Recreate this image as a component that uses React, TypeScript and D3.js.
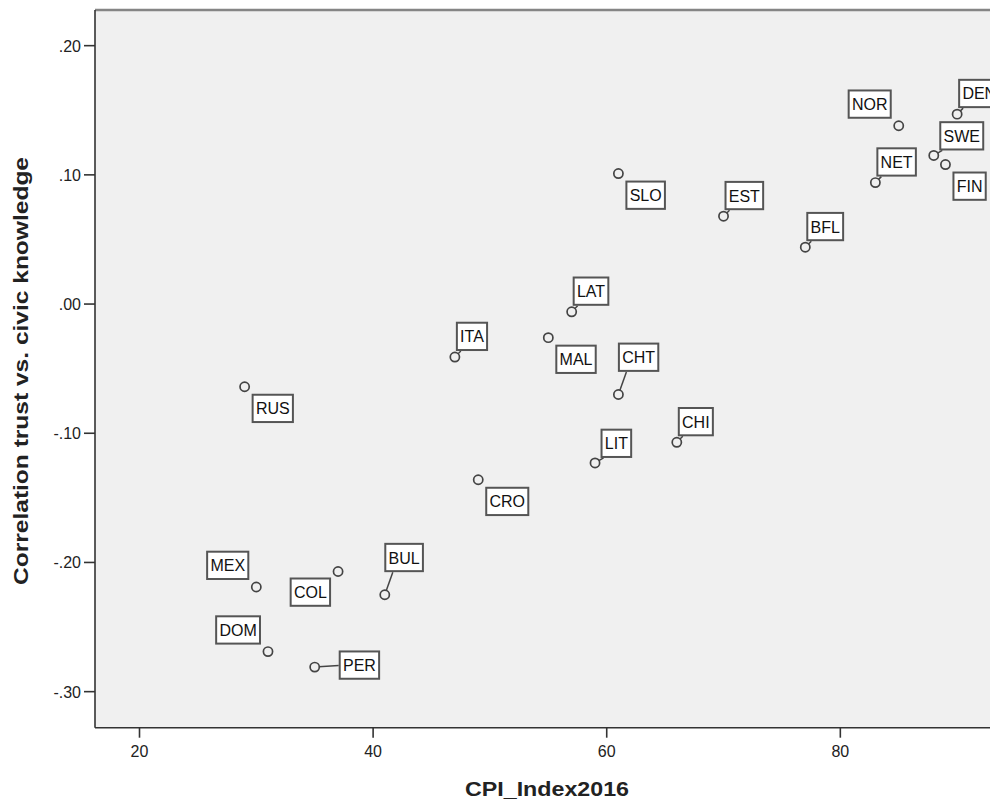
import React, { useEffect, useRef } from "react";
import * as d3 from "d3";

const countries = ["RUS","MEX","DOM","COL","PER","BUL","CRO","ITA","MAL","LAT","CHT","LIT","CHI","SLO","EST","BFL","NOR","NET","SWE","FIN","DEN"];
const cpiIndex = [29,30,31,37,35,41,49,47,55,57,61,59,66,61,70,77,85,83,88,89,90];
const correlation = [-0.064,-0.219,-0.269,-0.207,-0.281,-0.225,-0.136,-0.041,-0.026,-0.006,-0.070,-0.123,-0.107,0.101,0.068,0.044,0.138,0.094,0.115,0.108,0.147];

const xTicks = [20, 40, 60, 80];
const yTicks = [0.2, 0.1, 0.0, -0.1, -0.2, -0.3];
const yTickLabels = [".20", ".10", ".00", "-.10", "-.20", "-.30"];

const xTitle = "CPI_Index2016";
const yTitle = "Correlation trust vs. civic knowledge";

// label placement (layout only)
const placement: Record<string, string> = {
  RUS: "lr", MEX: "ul", DOM: "ul", COL: "ll", PER: "right", BUL: "above",
  CRO: "lr", ITA: "ur", MAL: "lr", LAT: "ur", CHT: "above", LIT: "ur2",
  CHI: "ur", SLO: "lr", EST: "ur", BFL: "ur", NOR: "ul", NET: "ur",
  SWE: "ur2", FIN: "lr", DEN: "ur",
};

const W = 990, H = 803;
const PL = 95, PR = 1000, PT = 10, PB = 727.7;

export default function App() {
  const ref = useRef<SVGSVGElement>(null);
  useEffect(() => {
    const svg = d3.select(ref.current);
    svg.selectAll("*").remove();
    const x = d3.scaleLinear().domain([16.19, 93.67]).range([PL, PR]);
    const y = d3.scaleLinear().domain([0.2276, -0.3279]).range([PT, PB]);
    const font = "'Liberation Sans', Arial, sans-serif";

    svg.append("rect").attr("x", 0).attr("y", 0).attr("width", W).attr("height", H).attr("fill", "#fff");
    svg.append("rect").attr("x", PL).attr("y", PT).attr("width", PR - PL).attr("height", PB - PT).attr("fill", "#f0f0f0");
    // borders
    svg.append("line").attr("x1", PL).attr("x2", PR).attr("y1", PT).attr("y2", PT).attr("stroke", "#858585").attr("stroke-width", 2.5);
    svg.append("line").attr("x1", PL).attr("x2", PL).attr("y1", PT).attr("y2", PB).attr("stroke", "#333").attr("stroke-width", 1.6);
    svg.append("line").attr("x1", PL).attr("x2", PR).attr("y1", PB).attr("y2", PB).attr("stroke", "#333").attr("stroke-width", 1.6);

    // y ticks
    yTicks.forEach((t, i) => {
      const yy = y(t);
      svg.append("line").attr("x1", PL - 11).attr("x2", PL).attr("y1", yy).attr("y2", yy).attr("stroke", "#333").attr("stroke-width", 1.6);
      svg.append("text").attr("x", 81).attr("y", yy + 6).attr("text-anchor", "end")
        .attr("font-family", font).attr("font-size", 16).attr("fill", "#222").text(yTickLabels[i]);
    });
    // x ticks
    xTicks.forEach((t) => {
      const xx = x(t);
      svg.append("line").attr("x1", xx).attr("x2", xx).attr("y1", PB).attr("y2", PB + 10).attr("stroke", "#333").attr("stroke-width", 1.6);
      svg.append("text").attr("x", xx).attr("y", 757).attr("text-anchor", "middle")
        .attr("font-family", font).attr("font-size", 16).attr("fill", "#222").text(String(t));
    });

    // titles
    svg.append("text").attr("x", 547).attr("y", 795.5).attr("text-anchor", "middle")
      .attr("font-family", font).attr("font-size", 20).attr("font-weight", "bold").attr("fill", "#222")
      .attr("textLength", 164).attr("lengthAdjust", "spacingAndGlyphs").text(xTitle);
    svg.append("text").attr("transform", "translate(28,371) rotate(-90)").attr("text-anchor", "middle")
      .attr("font-family", font).attr("font-size", 20).attr("font-weight", "bold").attr("fill", "#222")
      .attr("textLength", 428).attr("lengthAdjust", "spacingAndGlyphs").text(yTitle);

    const g = svg.append("g");
    const BH = 29.3;
    countries.forEach((c, i) => {
      const cx = x(cpiIndex[i]);
      const cy = y(correlation[i]);
      const t = g.append("text").attr("font-family", font).attr("font-size", 16).attr("fill", "#111")
        .attr("text-anchor", "middle").attr("dominant-baseline", "central").text(c);
      const tw = (t.node() as SVGTextElement).getComputedTextLength();
      const BW = tw + 8.5;
      let left = 0, top = 0;
      let leader: [number, number] | null = null;
      const p = placement[c];
      if (p === "lr") { left = cx + 7; top = cy + 7; }
      else if (p === "ul") { left = cx - 7 - BW; top = cy - 7 - BH; }
      else if (p === "ll") { left = cx - 7 - BW; top = cy + 6; }
      else if (p === "ur") { left = cx + 1; top = cy - 6 - BH; leader = [left + 5, top + BH]; }
      else if (p === "ur2") { left = cx + 5.5; top = cy - 5 - BH; leader = [left + 3, top + BH]; }
      else if (p === "above") { left = cx - 0.5; top = cy - 22.6 - BH; leader = [left + 8.5, top + BH]; }
      else if (p === "right") { left = cx + 24; top = cy - 2 - BH / 2; leader = [left, cy - 1.5]; }
      if (leader) {
        g.insert("line", "text").attr("x1", cx).attr("y1", cy).attr("x2", leader[0]).attr("y2", leader[1])
          .attr("stroke", "#444").attr("stroke-width", 1.5);
      }
      g.insert("rect", "text").attr("x", left + 1).attr("y", top + 1).attr("width", BW - 2).attr("height", BH - 2)
        .attr("fill", "#fff").attr("stroke", "#555").attr("stroke-width", 2);
      t.attr("x", left + BW / 2).attr("y", top + BH / 2 + 0.5);
      g.append("circle").attr("cx", cx).attr("cy", cy).attr("r", 4.6)
        .attr("fill", "#f0f0f0").attr("stroke", "#444").attr("stroke-width", 1.7);
    });
  }, []);
  return (
    <div style={{ position: "absolute", left: 0, top: 0 }}>
      <svg ref={ref} width={W} height={H} style={{ display: "block" }} />
    </div>
  );
}
